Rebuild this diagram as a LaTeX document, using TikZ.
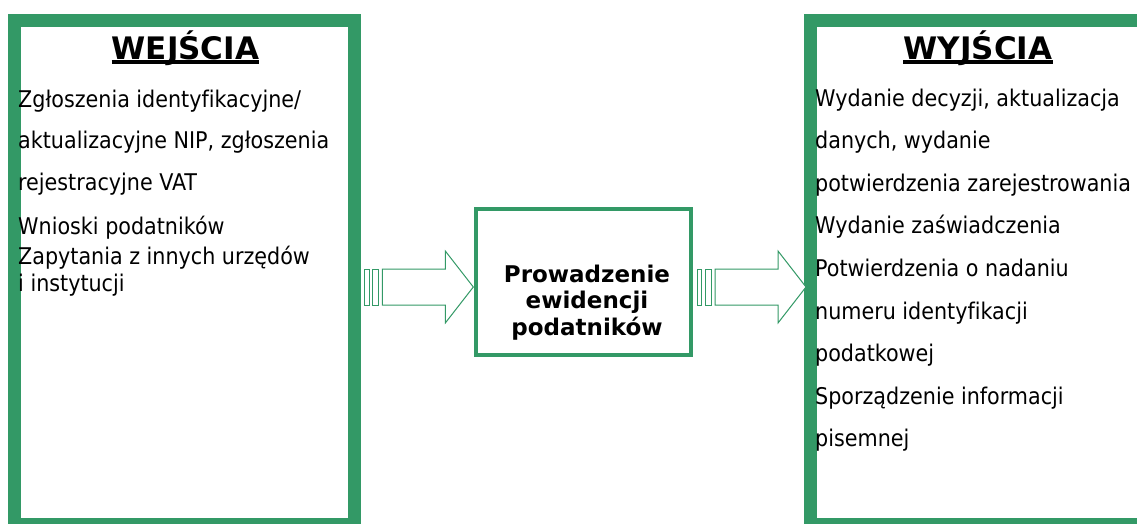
\documentclass[tikz,border=0pt]{standalone}
\usepackage{fontspec}
\setmainfont{DejaVu Sans Condensed}[Ligatures=NoCommon]
\newfontfamily\headfont{DejaVu Sans}[Ligatures=NoCommon]
\definecolor{boxgreen}{HTML}{339966}
\begin{document}
\begin{tikzpicture}[x=1pt,y=-1pt,
  panel/.style={draw=boxgreen, line width=13pt, rectangle, inner sep=0pt, line join=miter},
  procbox/.style={draw=boxgreen, line width=4pt, rectangle, inner sep=0pt},
  body/.style={anchor=base west, inner sep=0pt, font=\fontsize{23}{27}\selectfont},
  title/.style={anchor=base, inner sep=0pt, font=\headfont\bfseries\fontsize{31}{36}\selectfont},
  proc/.style={anchor=base, inner sep=0pt, font=\headfont\bfseries\fontsize{23}{27}\selectfont},
  underline/.style={line width=4pt},
  blockarrow/.style={draw=boxgreen, line width=1pt, fill=white, line join=miter},
  blockarr/.pic={
    \draw[blockarrow] (0,0) -- (-28,-36) -- (-28,-18) -- (-91,-18) -- (-91,18)
      -- (-28,18) -- (-28,36) -- cycle;
    \draw[blockarrow] (-101,-18) rectangle (-94.5,18);
    \draw[blockarrow] (-109,-18) rectangle (-104.3,18);
  },
]
\useasboundingbox (0,0) rectangle (1137,523);

% frames
\node[panel, minimum width=340pt, minimum height=504pt] (inbox) at (184.5,272.5) {};
\node[panel, minimum width=335pt, minimum height=504pt] (outbox) at (978,272.5) {};
\node[procbox, minimum width=215pt, minimum height=146pt] (procbox) at (583.5,282) {};

% block arrows between the frames
\pic at ([xshift=-0.7pt,yshift=-5pt]procbox.west) {blockarr};
\pic at ([xshift=2pt,yshift=-14.5pt]outbox.west) {blockarr};

% headings
\node[title] (intitle) at (185.5,59.5) {WEJŚCIA};
\draw[underline] ([yshift=-2.5pt]intitle.base west) -- ([yshift=-2.5pt]intitle.base east);
\node[title] (outtitle) at (978,59.5) {WYJŚCIA};
\draw[underline] ([yshift=-2.5pt]outtitle.base west) -- ([yshift=-2.5pt]outtitle.base east);

% inputs
\node[body] (in1) at (18,107) {Zgłoszenia identyfikacyjne/};
\node[body] (in2) at (18,148) {aktualizacyjne NIP, zgłoszenia};
\node[body] (in3) at (18,190) {rejestracyjne VAT};
\node[body] (in4) at (18,234) {Wnioski podatników};
\node[body] (in5) at (18,264) {Zapytania z innych urzędów};
\node[body] (in6) at (18,291) {i instytucji};

% process
\node[proc] (p1) at (587,282) {Prowadzenie};
\node[proc] (p2) at (587,308.5) {ewidencji};
\node[proc] (p3) at (587,335) {podatników};

% outputs
\node[body] (out1) at (815,106) {Wydanie decyzji, aktualizacja};
\node[body] (out2) at (815,148.6) {danych, wydanie};
\node[body] (out3) at (815,191.2) {potwierdzenia zarejestrowania};
\node[body] (out4) at (815,233.8) {Wydanie zaświadczenia};
\node[body] (out5) at (815,276.4) {Potwierdzenia o nadaniu};
\node[body] (out6) at (815,319) {numeru identyfikacji};
\node[body] (out7) at (815,361.6) {podatkowej};
\node[body] (out8) at (815,404.2) {Sporządzenie informacji};
\node[body] (out9) at (815,446.8) {pisemnej};
\end{tikzpicture}
\end{document}
